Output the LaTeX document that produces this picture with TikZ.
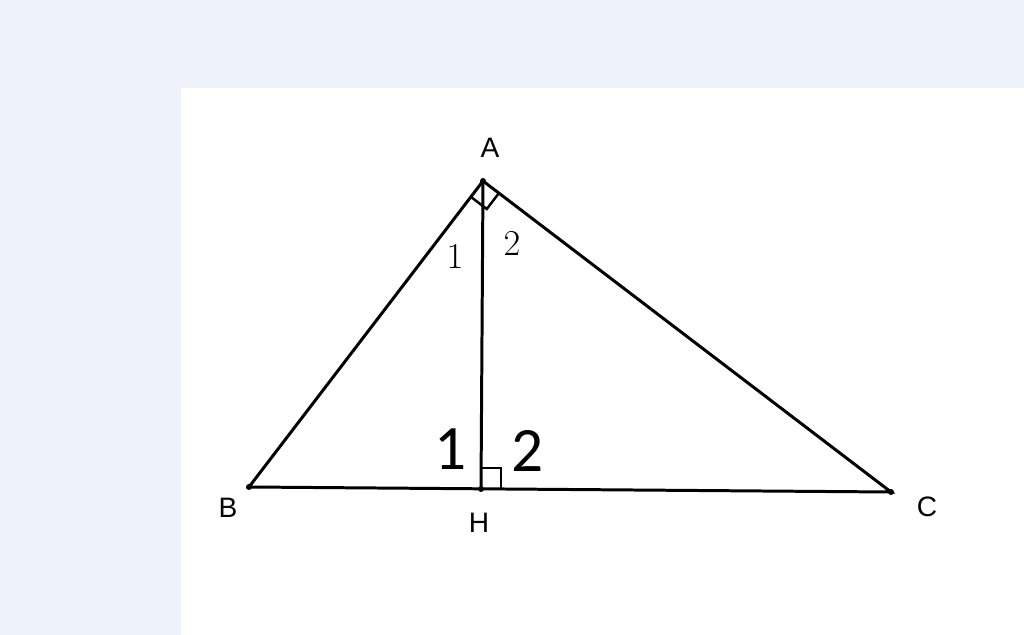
\documentclass[tikz,border=0pt]{standalone}
\usepackage{fontspec}
\setmainfont{Liberation Sans}
\newfontfamily\bigfont{Carlito}
\usetikzlibrary{calc}
\definecolor{pagebg}{HTML}{EEF2FA}
\begin{document}
\begin{tikzpicture}[x=0.02cm,y=-0.02cm,line width=1.7pt]
      \fill[pagebg] (0,0) rectangle (1024,635);
      \fill[white] (181,88) rectangle (1024,635);
      \useasboundingbox (0,0) rectangle (1024,635);
      \coordinate (A) at (483,181);
      \coordinate (B) at (249,487);
      \coordinate (C) at (891,492);
      \coordinate (H) at (481,489);
      \draw (A)--(B)--(C)--cycle;
      \draw (A)--(H);
      % right angle marks
      \coordinate (ab) at ($(A)!0.4cm!(B)$);
      \coordinate (ac) at ($(A)!0.4cm!(C)$);
      \draw[line width=1.4pt] (ab) -- ($(ab)+(ac)-(A)$) -- (ac);
      \draw[line width=1.4pt] (481,468) -- (501,468) -- (501,489);
      \foreach \p in {A,B,C,H} \fill (\p) circle(3);
      \node at (490,148) {\fontsize{16}{16}\selectfont A};
      \node at (228,508) {\fontsize{16}{16}\selectfont B};
      \node at (927,507) {\fontsize{16}{16}\selectfont C};
      \node at (479,523) {\fontsize{16}{16}\selectfont H};
      \node at (455,257) {\fontsize{22}{22}\selectfont $1$};
      \node at (512,244) {\fontsize{22}{22}\selectfont $2$};
      \node at (451,449) {\bigfont\fontsize{36}{36}\selectfont 1};
      \node at (528,451) {\bigfont\fontsize{36}{36}\selectfont 2};
    \end{tikzpicture}
\end{document}
